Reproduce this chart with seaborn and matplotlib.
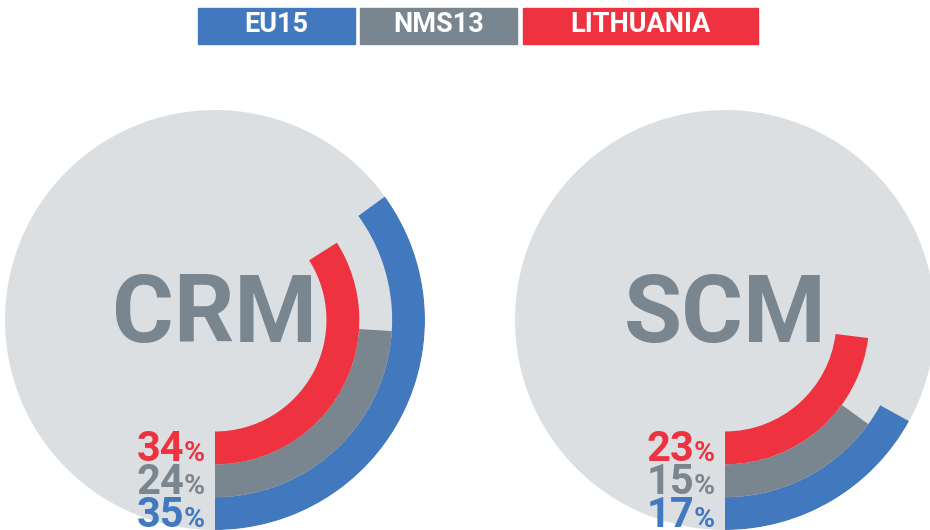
import numpy as np
import matplotlib.pyplot as plt
from matplotlib.patches import Rectangle
import seaborn as sns

# Daten
groups = ['EU15', 'NMS13', 'LITHUANIA']
charts = ['CRM', 'SCM']
crm_values = [35, 24, 34]
scm_values = [17, 15, 23]

sns.set_theme(style='white')
plt.rcParams['font.family'] = ['Roboto', 'DejaVu Sans']

colors = sns.color_palette(['#4279BE', '#79858F', '#EE3240'])
circle_color = '#DCDFE2'

# Ringe: EU15 aussen, NMS13 mitte, LITHUANIA innen
ring_inner = [178, 145, 112]
ring_width = 33
r_max = 211

fig = plt.figure(figsize=(9.3, 5.3), dpi=100)
W, H = 930, 530

def draw_donut(left_px, title, values):
    ax = fig.add_axes([left_px / W, 0, 420 / W, 420 / H], projection='polar')
    ax.set_theta_zero_location('S')
    ax.set_theta_direction(1)
    ax.set_facecolor(circle_color)
    ax.set_ylim(0, r_max)
    ax.grid(False)
    ax.set_xticks([])
    ax.set_yticks([])
    ax.spines['polar'].set_visible(False)

    for val, inner, col in zip(values, ring_inner, colors):
        ax.bar(0, ring_width, width=val / 100 * 2 * np.pi, bottom=inner,
               align='edge', color=col, linewidth=0)

    ax.text(0.5, 0.51, title, transform=ax.transAxes, ha='center', va='center',
            fontsize=68, fontweight='bold', color=colors[1])

    renderer = fig.canvas.get_renderer()
    for val, inner, col in zip(values, ring_inner, colors):
        r_mid = inner + ring_width / 2
        pct = ax.annotate('%', xy=(0, r_mid), xytext=(-10, -13.5),
                          textcoords='offset pixels', ha='right', va='baseline',
                          fontsize=20.5, fontweight='bold', color=col)
        w = pct.get_window_extent(renderer).width
        ax.annotate(str(val), xy=(0, r_mid), xytext=(-10 - w, -13.5),
                    textcoords='offset pixels', ha='right', va='baseline',
                    fontsize=30, fontweight='bold', color=col)

draw_donut(5, charts[0], crm_values)
draw_donut(515, charts[1], scm_values)

# Legende oben
box_left = [198, 360, 523]
box_width = [157, 157, 235]
for name, x0, bw, col in zip(groups, box_left, box_width, colors):
    fig.patches.append(Rectangle((x0 / W, 1 - 44 / H), bw / W, 36 / H,
                                 transform=fig.transFigure, color=col, zorder=0))
    fig.text((x0 + bw / 2) / W, 1 - 25 / H, name, ha='center', va='center',
             fontsize=19.5, fontweight='bold', color='white')

fig.savefig('out.png', dpi=100)
